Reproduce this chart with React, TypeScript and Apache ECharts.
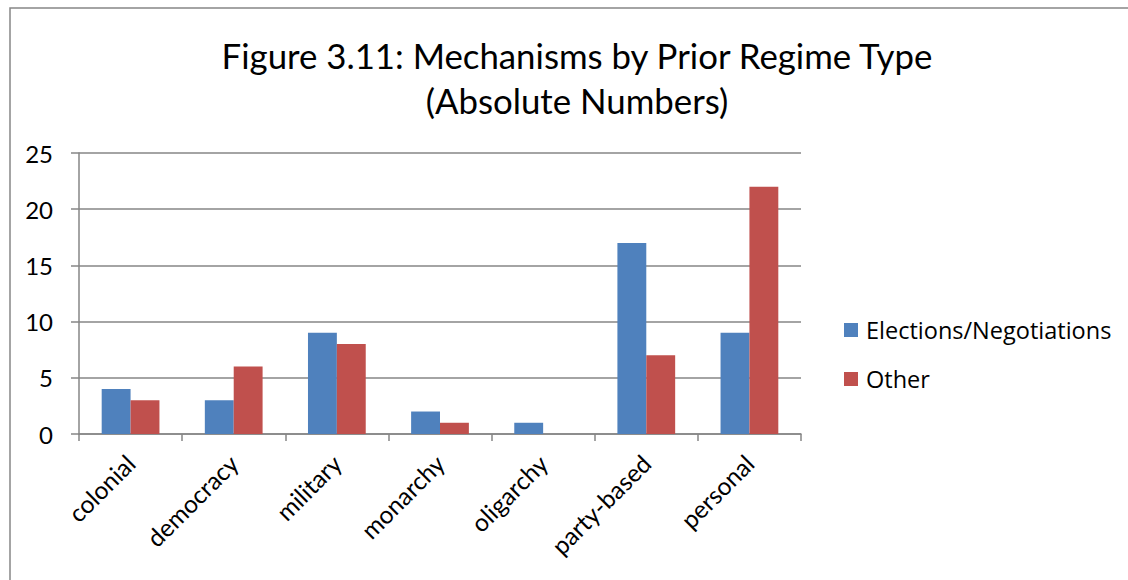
import React, { useEffect, useRef } from "react";
import * as echarts from "echarts";

const categories = ["colonial", "democracy", "military", "monarchy", "oligarchy", "party-based", "personal"];
const electionsValues = [4, 3, 9, 2, 1, 17, 9];
const otherValues = [3, 6, 8, 1, 0, 7, 22];
const yTicks = [0, 5, 10, 15, 20, 25];
const seriesNames = ["Elections/Negotiations", "Other"];
const titleLines = ["Figure 3.11: Mechanisms by Prior Regime Type", "(Absolute Numbers)"];

const FONT = "Lato";
const LEGEND_FONT = "Open Sans";

export default function App() {
  const ref = useRef<HTMLDivElement>(null);
  useEffect(() => {
    const chart = echarts.init(ref.current!, null, { renderer: "svg" });
    chart.setOption({
      animation: false,
      backgroundColor: "#ffffff",
      textStyle: { fontFamily: FONT },
      title: {
        text: titleLines.join("\n"),
        left: 572,
        top: 28,
        textAlign: "center",
        textStyle: { fontFamily: FONT, fontSize: 34.8, fontWeight: "normal", color: "#000", lineHeight: 45 },
      },
      graphic: [
        {
          type: "rect",
          shape: { x: 10, y: 8, width: 1200, height: 700 },
          style: { fill: "none", stroke: "#868686", lineWidth: 1.5 },
          silent: true,
          z: -1,
        },
      ],
      legend: {
        orient: "vertical",
        left: 839,
        top: 313,
        itemWidth: 14,
        itemHeight: 14,
        itemGap: 25,
        icon: "rect",
        data: seriesNames,
        textStyle: { fontFamily: LEGEND_FONT, fontSize: 23.5, color: "#000", lineHeight: 24, padding: [0, 0, 0, 3] },
      },
      grid: { left: 79, right: 327, top: 153, bottom: 146, containLabel: false },
      xAxis: {
        type: "category",
        data: categories,
        axisLine: { show: true, lineStyle: { color: "#868686", width: 1.5 } },
        axisTick: { show: true, length: 7, lineStyle: { color: "#868686", width: 1.5 } },
        axisLabel: { rotate: 45, margin: 25, fontFamily: FONT, fontSize: 24.5, color: "#000", interval: 0 },
      },
      yAxis: {
        type: "value",
        min: yTicks[0],
        max: yTicks[yTicks.length - 1],
        interval: 5,
        axisLine: { show: true, lineStyle: { color: "#868686", width: 1.5 } },
        axisTick: { show: true, length: 8, lineStyle: { color: "#868686", width: 1.5 } },
        splitLine: { show: true, lineStyle: { color: "#868686", width: 1.5 } },
        axisLabel: { margin: 26, fontFamily: FONT, fontSize: 24, color: "#000" },
      },
      series: [
        {
          name: seriesNames[0],
          type: "bar",
          data: electionsValues,
          barGap: "0%",
          barCategoryGap: "44%",
          itemStyle: { color: "#4F81BD" },
        },
        {
          name: seriesNames[1],
          type: "bar",
          data: otherValues,
          barGap: "0%",
          barCategoryGap: "44%",
          itemStyle: { color: "#C0504D" },
        },
      ],
    });
    return () => chart.dispose();
  }, []);
  return <div ref={ref} style={{ position: "fixed", left: 0, top: 0, width: 1128, height: 580 }} />;
}
